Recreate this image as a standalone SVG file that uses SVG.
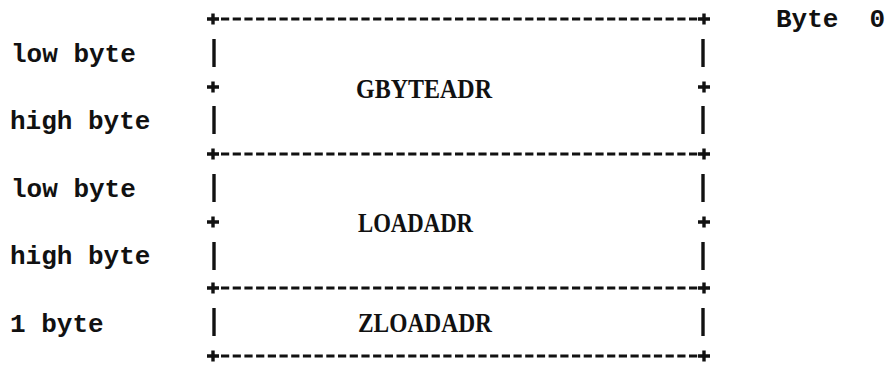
<svg xmlns="http://www.w3.org/2000/svg" width="894" height="365" viewBox="0 0 894 365">
<style>
.dash{stroke:#111;stroke-width:3.2;stroke-dasharray:8.2 3.5;fill:none}
.bar{stroke:#111;stroke-width:3.4;fill:none}
.mono{font-family:"Liberation Mono","DejaVu Sans Mono",monospace;font-weight:bold;font-size:26px;fill:#111}
.serif{font-family:"Liberation Serif","DejaVu Serif",serif;font-weight:bold;font-size:27px;fill:#111}
</style>
<defs>
<path id="plus" d="M-6,0H6M0,-5.5V5.5" stroke="#111" stroke-width="3.4" fill="none"/>
</defs>
<rect width="894" height="365" fill="#fff"/>
<g id="labels">
<text class="mono" x="11" y="62">low byte</text>
<text class="mono" x="10" y="129">high byte</text>
<text class="mono" x="11" y="197">low byte</text>
<text class="mono" x="10" y="264">high byte</text>
<text class="mono" x="10" y="332">1 byte</text>
<text class="mono" x="776" y="27" xml:space="preserve">Byte  0</text>
</g>
<g id="connectors">
<line class="dash" x1="221" y1="19" x2="698" y2="19"/>
<line class="dash" x1="221" y1="154" x2="698" y2="154"/>
<line class="dash" x1="221" y1="288" x2="698" y2="288"/>
<line class="dash" x1="221" y1="356" x2="698" y2="356"/>
<use href="#plus" x="213" y="19"/><use href="#plus" x="704" y="19"/>
<use href="#plus" x="213" y="154"/><use href="#plus" x="704" y="154"/>
<use href="#plus" x="213" y="288"/><use href="#plus" x="704" y="288"/>
<use href="#plus" x="213" y="356"/><use href="#plus" x="704" y="356"/>
</g>
<g id="GBYTEADR">
<line class="bar" x1="214" y1="39" x2="214" y2="67"/>
<line class="bar" x1="703" y1="39" x2="703" y2="67"/>
<use href="#plus" x="213" y="87"/><use href="#plus" x="704" y="87"/>
<line class="bar" x1="214" y1="106" x2="214" y2="134"/>
<line class="bar" x1="703" y1="106" x2="703" y2="134"/>
<text class="serif" x="356" y="98" textLength="136" lengthAdjust="spacingAndGlyphs">GBYTEADR</text>
</g>
<g id="LOADADR">
<line class="bar" x1="214" y1="174" x2="214" y2="202"/>
<line class="bar" x1="703" y1="174" x2="703" y2="202"/>
<use href="#plus" x="213" y="222"/><use href="#plus" x="704" y="222"/>
<line class="bar" x1="214" y1="242" x2="214" y2="270"/>
<line class="bar" x1="703" y1="242" x2="703" y2="270"/>
<text class="serif" x="358" y="232" textLength="115" lengthAdjust="spacingAndGlyphs">LOADADR</text>
</g>
<g id="ZLOADADR">
<line class="bar" x1="214" y1="308" x2="214" y2="336"/>
<line class="bar" x1="703" y1="308" x2="703" y2="336"/>
<text class="serif" x="358" y="332" textLength="134" lengthAdjust="spacingAndGlyphs">ZLOADADR</text>
</g>
</svg>
